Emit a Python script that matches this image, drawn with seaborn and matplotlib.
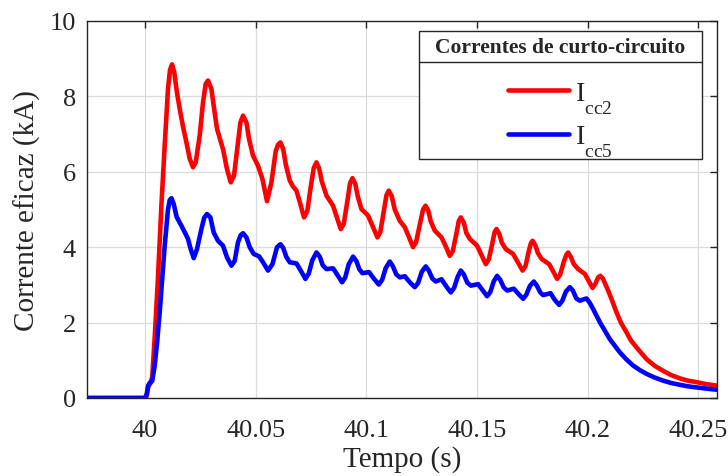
import numpy as np
import pandas as pd
import matplotlib
matplotlib.use("Agg")
import matplotlib.pyplot as plt
from matplotlib.lines import Line2D
from matplotlib.patches import Rectangle
import seaborn as sns

# ---- data (time in s, current in kA) ----
t_cc2 = [39.97364, 40.00000, 40.00077, 40.00145, 40.00235, 40.00326, 40.00439, 40.00588, 40.00741, 40.00891,
         40.01040, 40.01130, 40.01221, 40.01320, 40.01433, 40.01569, 40.01718, 40.01872, 40.02021, 40.02170,
         40.02292, 40.02473, 40.02622, 40.02744, 40.02848, 40.03002, 40.03106, 40.03255, 40.03526, 40.03707,
         40.03874, 40.04024, 40.04204, 40.04313, 40.04430, 40.04584, 40.04702, 40.04882, 40.05109, 40.05307,
         40.05515, 40.05714, 40.05909, 40.06013, 40.06121, 40.06248, 40.06361, 40.06542, 40.06677, 40.06844,
         40.06994, 40.07188, 40.07333, 40.07491, 40.07627, 40.07749, 40.07875, 40.07988, 40.08201, 40.08499,
         40.08666, 40.08847, 40.08983, 40.09141, 40.09268, 40.09376, 40.09503, 40.09616, 40.09783, 40.10081,
         40.10294, 40.10506, 40.10633, 40.10791, 40.10913, 40.11017, 40.11153, 40.11288, 40.11514, 40.11741,
         40.11921, 40.12116, 40.12251, 40.12419, 40.12568, 40.12676, 40.12803, 40.12916, 40.13097, 40.13400,
         40.13594, 40.13775, 40.13911, 40.14069, 40.14182, 40.14272, 40.14408, 40.14521, 40.14679, 40.15009,
         40.15199, 40.15402, 40.15538, 40.15696, 40.15800, 40.15886, 40.16013, 40.16126, 40.16307, 40.16637,
         40.16849, 40.17062, 40.17197, 40.17346, 40.17437, 40.17514, 40.17640, 40.17753, 40.17920, 40.18264,
         40.18454, 40.18626, 40.18761, 40.18920, 40.19042, 40.19123, 40.19245, 40.19381, 40.19575, 40.19878,
         40.20059, 40.20226, 40.20353, 40.20479, 40.20579, 40.20692, 40.20931, 40.21099, 40.21311, 40.21505,
         40.21763, 40.21957, 40.22215, 40.22667, 40.23042, 40.23418, 40.23766, 40.24173, 40.24534, 40.24928,
         40.25348, 40.25832]
i_cc2 = [0.00, 0.00, 0.05, 0.30, 0.38, 0.55, 1.60, 3.20, 5.10, 6.70,
         8.20, 8.70, 8.85, 8.65, 8.15, 7.67, 7.20, 6.78, 6.35, 6.12,
         6.25, 6.96, 7.84, 8.33, 8.42, 8.20, 7.75, 7.14, 6.60, 6.07,
         5.72, 5.90, 6.78, 7.31, 7.49, 7.31, 6.87, 6.43, 6.16, 5.81,
         5.22, 5.72, 6.55, 6.72, 6.78, 6.60, 6.20, 5.77, 5.62, 5.50,
         5.20, 4.79, 4.95, 5.60, 6.10, 6.25, 6.08, 5.75, 5.37, 5.10,
         4.80, 4.48, 4.62, 5.20, 5.70, 5.83, 5.68, 5.35, 5.01, 4.84,
         4.55, 4.26, 4.40, 4.95, 5.38, 5.50, 5.35, 5.00, 4.70, 4.53,
         4.28, 4.00, 4.13, 4.60, 5.00, 5.10, 4.97, 4.68, 4.44, 4.26,
         4.02, 3.77, 3.90, 4.35, 4.70, 4.79, 4.65, 4.38, 4.22, 4.04,
         3.80, 3.55, 3.68, 4.10, 4.40, 4.48, 4.35, 4.12, 3.95, 3.82,
         3.60, 3.38, 3.50, 3.90, 4.10, 4.17, 4.05, 3.85, 3.69, 3.55,
         3.35, 3.16, 3.27, 3.60, 3.80, 3.86, 3.74, 3.55, 3.42, 3.29,
         3.10, 2.92, 3.03, 3.20, 3.24, 3.17, 2.85, 2.60, 2.27, 2.00,
         1.74, 1.53, 1.34, 1.03, 0.85, 0.72, 0.61, 0.52, 0.46, 0.42,
         0.37, 0.33]

t_cc5 = [39.97364, 40.00000, 40.00077, 40.00145, 40.00212, 40.00326, 40.00439, 40.00552, 40.00665, 40.00778,
         40.00891, 40.01040, 40.01117, 40.01194, 40.01297, 40.01433, 40.01646, 40.01795, 40.01944, 40.02066,
         40.02202, 40.02351, 40.02550, 40.02676, 40.02803, 40.02957, 40.03106, 40.03300, 40.03526, 40.03707,
         40.03906, 40.04055, 40.04204, 40.04326, 40.04430, 40.04584, 40.04733, 40.04914, 40.05154, 40.05335,
         40.05561, 40.05760, 40.05967, 40.06121, 40.06248, 40.06383, 40.06542, 40.06844, 40.07039, 40.07251,
         40.07401, 40.07559, 40.07749, 40.07898, 40.08033, 40.08201, 40.08499, 40.08712, 40.08906, 40.09051,
         40.09209, 40.09403, 40.09548, 40.09684, 40.09828, 40.10127, 40.10339, 40.10565, 40.10714, 40.10882,
         40.11062, 40.11198, 40.11356, 40.11514, 40.11741, 40.11967, 40.12193, 40.12342, 40.12510, 40.12690,
         40.12826, 40.12984, 40.13142, 40.13400, 40.13617, 40.13820, 40.13969, 40.14137, 40.14272, 40.14408,
         40.14566, 40.14724, 40.15054, 40.15267, 40.15461, 40.15606, 40.15764, 40.15913, 40.16049, 40.16216,
         40.16365, 40.16668, 40.16894, 40.17089, 40.17233, 40.17392, 40.17572, 40.17708, 40.17866, 40.17993,
         40.18327, 40.18522, 40.18716, 40.18861, 40.19019, 40.19200, 40.19336, 40.19494, 40.19652, 40.19833,
         40.19955, 40.20104, 40.20253, 40.20556, 40.21008, 40.21460, 40.21763, 40.22062, 40.22364, 40.22667,
         40.23042, 40.23418, 40.23766, 40.24173, 40.24534, 40.24928, 40.25348, 40.25832]
i_cc5 = [0.00, 0.00, 0.10, 0.33, 0.40, 0.45, 0.86, 1.50, 2.28, 3.15,
         4.04, 5.00, 5.25, 5.30, 5.15, 4.80, 4.57, 4.40, 4.22, 3.95,
         3.71, 3.95, 4.48, 4.78, 4.88, 4.79, 4.39, 4.17, 4.04, 3.73,
         3.51, 3.64, 4.13, 4.32, 4.37, 4.26, 4.00, 3.82, 3.76, 3.60,
         3.38, 3.55, 4.00, 4.08, 3.98, 3.75, 3.60, 3.57, 3.38, 3.16,
         3.30, 3.65, 3.86, 3.75, 3.52, 3.42, 3.44, 3.25, 3.07, 3.20,
         3.55, 3.75, 3.64, 3.42, 3.31, 3.34, 3.17, 3.01, 3.13, 3.45,
         3.62, 3.50, 3.28, 3.20, 3.23, 3.07, 2.94, 3.05, 3.35, 3.49,
         3.38, 3.17, 3.09, 3.15, 2.96, 2.80, 2.92, 3.22, 3.38, 3.28,
         3.06, 2.98, 3.02, 2.85, 2.70, 2.81, 3.10, 3.24, 3.14, 2.93,
         2.85, 2.90, 2.75, 2.63, 2.74, 2.97, 3.09, 2.98, 2.80, 2.73,
         2.78, 2.60, 2.47, 2.58, 2.82, 2.94, 2.85, 2.64, 2.58, 2.62,
         2.64, 2.52, 2.36, 2.01, 1.56, 1.21, 1.02, 0.86, 0.74, 0.64,
         0.54, 0.46, 0.40, 0.35, 0.31, 0.28, 0.25, 0.22]

series_labels = [r"I$_{\mathrm{cc2}}$", r"I$_{\mathrm{cc5}}$"]
x_ticks = [40.0, 40.05, 40.1, 40.15, 40.2, 40.25]
x_ticklabels = ["40", "40.05", "40.1", "40.15", "40.2", "40.25"]
y_ticks = [0, 2, 4, 6, 8, 10]
legend_title = "Correntes de curto-circuito"
x_label = "Tempo (s)"
y_label = "Corrente eficaz (kA)"

assert len(t_cc2) == len(i_cc2) and len(t_cc5) == len(i_cc5)

# ---- style ----
sns.set_theme(style="white")
plt.rcParams["font.family"] = ["Liberation Serif", "DejaVu Serif"]
plt.rcParams["mathtext.fontset"] = "custom"
plt.rcParams["mathtext.rm"] = "Liberation Serif"
plt.rcParams["mathtext.it"] = "Liberation Serif:italic"
plt.rcParams["mathtext.bf"] = "Liberation Serif:bold"
# MATLAB-like deeper subscripts
try:
    from matplotlib import _mathtext
    _mathtext.FontConstantsBase.sub1 = 1.0
except Exception:
    pass

dark = "#262626"
fig = plt.figure(figsize=(7.28, 4.77), dpi=100)
ax = fig.add_axes([87 / 728, 78 / 477, 630 / 728, 377 / 477])

df2 = pd.DataFrame({"t": t_cc2, "i": i_cc2})
df5 = pd.DataFrame({"t": t_cc5, "i": i_cc5})
sns.lineplot(data=df2, x="t", y="i", color="#ff0000", linewidth=3.3, ax=ax, sort=False,
             label=series_labels[0], solid_joinstyle="round", solid_capstyle="round")
sns.lineplot(data=df5, x="t", y="i", color="#0000ff", linewidth=3.3, ax=ax, sort=False,
             label=series_labels[1], solid_joinstyle="round", solid_capstyle="round")

ax.set_xlim(39.9738, 40.2585)
ax.set_ylim(0, 10)
ax.set_xticks(x_ticks)
ax.set_xticklabels(x_ticklabels)
ax.set_yticks(y_ticks)
ax.grid(True, color="#dcdcdc", linewidth=0.9)
ax.set_axisbelow(True)
for s in ax.spines.values():
    s.set_visible(True)
    s.set_color(dark)
    s.set_linewidth(1.0)
ax.tick_params(direction="in", length=5, width=1.0, colors=dark, labelsize=19,
               top=True, right=True)
ax.tick_params(axis="x", pad=15)
ax.tick_params(axis="y", pad=8)
ax.set_xlabel(x_label, fontsize=21, color=dark, labelpad=3)
ax.set_ylabel(y_label, fontsize=21, color=dark, labelpad=6)

# legend content (frame drawn separately, MATLAB style with title separator)
leg = ax.legend(loc="upper center", bbox_to_anchor=(0.7516, 0.9735), borderaxespad=0,
                title=legend_title, title_fontproperties={"weight": "bold", "size": 15.5},
                fontsize=20, handlelength=2.2, handletextpad=0.2, labelspacing=0.3,
                frameon=False, borderpad=0.2)
leg.set_zorder(10)
try:
    leg._legend_box.sep = 17  # gap between title and entries (points)
except Exception:
    pass
for h in leg.get_lines():
    h.set_linewidth(3.3)

fig.canvas.draw()
W, H = fig.bbox.width, fig.bbox.height
lb = leg.get_window_extent()
tb = leg.get_title().get_window_extent()
hl = leg.get_lines()[-1]
last_y = hl.get_transform().transform(np.column_stack([hl.get_xdata(), hl.get_ydata()]))[0, 1]
hpad = 11
x0, x1 = lb.x0 - hpad, lb.x1 + hpad
y_bot = last_y - 25
box = Rectangle((x0 / W, y_bot / H), (x1 - x0) / W, (lb.y1 - y_bot) / H,
                transform=fig.transFigure, facecolor="white", edgecolor=dark,
                linewidth=1.0, zorder=8, clip_on=False)
ax.add_artist(box)
ysep = (tb.y0 - 5.5) / H
sep = Line2D([x0 / W, x1 / W], [ysep, ysep], color=dark, linewidth=1.0,
             transform=fig.transFigure, zorder=9, clip_on=False)
ax.add_artist(sep)

fig.savefig("out.png", dpi=100)
